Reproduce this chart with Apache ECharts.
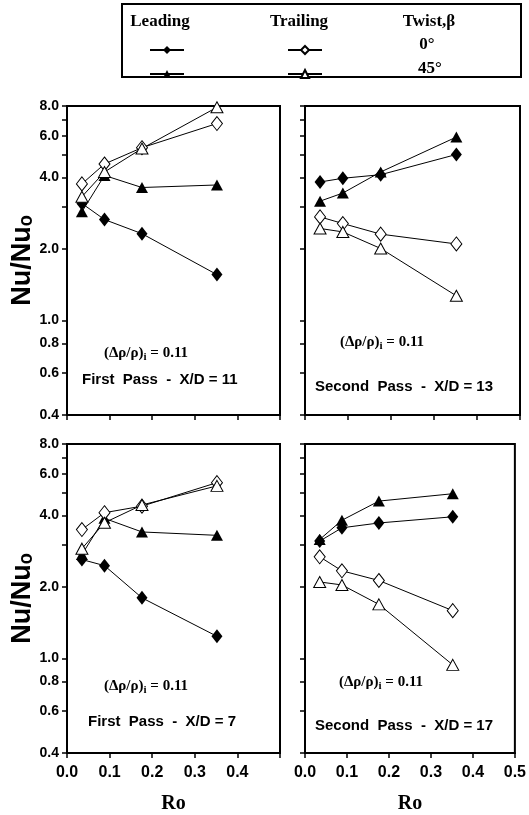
<!DOCTYPE html>
<html>
<head>
<meta charset="utf-8">
<script src="https://cdn.jsdelivr.net/npm/echarts@6.0.0/dist/echarts.min.js"></script>
<style>
  html, body { margin: 0; padding: 0; background: #fff; }
  #chart { width: 529px; height: 815px; }
</style>
</head>
<body>
<div id="chart"></div>
<script>
// rotation number (same for all panels)
const ro = [0.035, 0.088, 0.176, 0.352]

// First Pass - X/D = 11
const fp11Lead0 = [3.11, 2.66, 2.32, 1.56]
const fp11Lead45 = [2.87, 4.08, 3.63, 3.72]
const fp11Trail0 = [3.76, 4.56, 5.34, 6.75]
const fp11Trail45 = [3.32, 4.22, 5.3, 7.9]

// Second Pass - X/D = 13
const sp13Lead0 = [3.83, 3.97, 4.11, 5.0]
const sp13Lead45 = [3.18, 3.44, 4.22, 5.92]
const sp13Trail0 = [2.73, 2.56, 2.31, 2.1]
const sp13Trail45 = [2.44, 2.36, 2.01, 1.27]

// First Pass - X/D = 7
const fp7Lead0 = [2.61, 2.46, 1.8, 1.24]
const fp7Lead45 = [2.74, 3.89, 3.41, 3.3]
const fp7Trail0 = [3.49, 4.11, 4.38, 5.5]
const fp7Trail45 = [2.9, 3.73, 4.43, 5.33]

// Second Pass - X/D = 17
const sp17Lead0 = [3.12, 3.55, 3.72, 3.95]
const sp17Lead45 = [3.17, 3.82, 4.6, 4.94]
const sp17Trail0 = [2.68, 2.34, 2.13, 1.59]
const sp17Trail45 = [2.1, 2.04, 1.69, 0.94]

// ticks
const yTicks = [0.4, 0.6, 0.8, 1, 2, 3, 4, 5, 6, 7, 8]
const yLabels = [0.4, 0.6, 0.8, 1, 2, 4, 6, 8]
const panelNames = ['First  Pass  -  X/D = 11', 'Second  Pass  -  X/D = 13', 'First  Pass  -  X/D = 7', 'Second  Pass  -  X/D = 17']
const seriesNames = ['Leading 0°', 'Leading 45°', 'Trailing 0°', 'Trailing 45°']
const panelData = [
  [fp11Lead0, fp11Lead45, fp11Trail0, fp11Trail45],
  [sp13Lead0, sp13Lead45, sp13Trail0, sp13Trail45],
  [fp7Lead0, fp7Lead45, fp7Trail0, fp7Trail45],
  [sp17Lead0, sp17Lead45, sp17Trail0, sp17Trail45]
]

const sans = '"Liberation Sans", Arial, sans-serif'
const serif = '"Liberation Serif", "DejaVu Serif", serif'

// marker look for each series kind
const markers = [
  { symbol: 'diamond', symbolSize: [11, 14], itemStyle: { color: '#000' } },
  { symbol: 'triangle', symbolSize: [12, 11], itemStyle: { color: '#000' } },
  { symbol: 'diamond', symbolSize: [11, 14], itemStyle: { color: '#fff', borderColor: '#000', borderWidth: 1 } },
  { symbol: 'triangle', symbolSize: [12, 11], itemStyle: { color: '#fff', borderColor: '#000', borderWidth: 1 } }
]

const grids = [
  { left: 67, top: 106, width: 213, height: 309 },
  { left: 305, top: 106, width: 215, height: 309 },
  { left: 67, top: 444, width: 213, height: 309 },
  { left: 305, top: 444, width: 215, height: 309 }
]

const xAxes = grids.map((g, i) => ({
  gridIndex: i,
  type: 'value',
  min: 0,
  max: 0.5,
  interval: 0.1,
  name: i >= 2 ? 'Ro' : '',
  nameLocation: 'middle',
  nameGap: 41,
  nameTextStyle: { fontFamily: serif, fontWeight: 'bold', fontSize: 20, color: '#000' },
  splitLine: { show: false },
  axisLine: { lineStyle: { color: '#000', width: 2 } },
  axisTick: { show: true, inside: false, length: 5, lineStyle: { color: '#000', width: 1.5 } },
  axisLabel: {
    show: i >= 2,
    margin: 12,
    fontFamily: sans,
    fontWeight: 'bold',
    fontSize: 16,
    color: '#000',
    formatter: (v) => (i === 2 && v > 0.45 ? '' : v.toFixed(1))
  }
}))

const yAxes = grids.map((g, i) => ({
  gridIndex: i,
  type: 'log',
  logBase: 10,
  min: 0.4,
  max: 8,
  name: i % 2 === 0 ? 'Nu/Nuₒ' : '',
  nameLocation: 'middle',
  nameGap: 31,
  nameRotate: 90,
  nameTextStyle: { fontFamily: sans, fontWeight: 'bold', fontSize: 27, color: '#000' },
  splitLine: { show: false },
  axisLine: { show: true, lineStyle: { color: '#000', width: 2 } },
  axisTick: { show: true, inside: false, length: 5, customValues: yTicks, lineStyle: { color: '#000', width: 1.5 } },
  axisLabel: {
    show: i % 2 === 0,
    customValues: yLabels,
    margin: 8,
    fontFamily: sans,
    fontWeight: 'bold',
    fontSize: 14,
    color: '#000',
    formatter: (v) => Number(v).toFixed(1)
  }
}))

const series = []
panelData.forEach((sets, p) => {
  sets.forEach((vals, k) => {
    series.push(Object.assign({
      name: seriesNames[k],
      type: 'line',
      xAxisIndex: p,
      yAxisIndex: p,
      showAllSymbol: true,
      lineStyle: { color: '#000', width: 1 },
      data: vals.map((v, j) => [ro[j], v])
    }, markers[k]))
  })
})

// legend icons, one legend per cell of the little table
const legendCells = [
  { name: 'Leading 0°', x: 161, y: 45 },
  { name: 'Trailing 0°', x: 299, y: 45 },
  { name: 'Leading 45°', x: 161, y: 69 },
  { name: 'Trailing 45°', x: 299, y: 69 }
]
const legends = legendCells.map((c) => ({
  data: [c.name],
  left: c.x - 17,
  top: c.y - 5,
  itemWidth: 34,
  itemHeight: 10,
  selectedMode: false,
  formatter: () => '',
  textStyle: { fontSize: 1 }
}))

// texts inside panels
const noteRich = {
  a: { fontFamily: serif, fontWeight: 'bold', fontSize: 15, fill: '#000' },
  s: { fontFamily: serif, fontWeight: 'bold', fontSize: 11, fill: '#000', padding: [8, 0, 0, 0] }
}
const notes = [
  { x: 146, y: 353 }, { x: 382, y: 342 }, { x: 146, y: 686 }, { x: 381, y: 682 }
]
const labels = [
  { x: 82, y: 380 }, { x: 315, y: 387 }, { x: 88, y: 722 }, { x: 315, y: 726 }
]

const graphic = [
  { type: 'rect', shape: { x: 122, y: 4, width: 399, height: 73 }, style: { fill: 'none', stroke: '#000', lineWidth: 2 } },
  { type: 'text', x: 160, y: 22, style: { text: 'Leading', font: 'bold 17px ' + serif, fill: '#000', align: 'center', verticalAlign: 'middle' } },
  { type: 'text', x: 299, y: 22, style: { text: 'Trailing', font: 'bold 17px ' + serif, fill: '#000', align: 'center', verticalAlign: 'middle' } },
  { type: 'text', x: 429, y: 22, style: { text: 'Twist,β', font: 'bold 17px ' + serif, fill: '#000', align: 'center', verticalAlign: 'middle' } },
  { type: 'text', x: 427, y: 45, style: { text: '0°', font: 'bold 17px ' + serif, fill: '#000', align: 'center', verticalAlign: 'middle' } },
  { type: 'text', x: 430, y: 69, style: { text: '45°', font: 'bold 17px ' + serif, fill: '#000', align: 'center', verticalAlign: 'middle' } }
]
notes.forEach((n) => {
  graphic.push({
    type: 'text', x: n.x, y: n.y,
    style: { text: '{a|(Δρ/ρ)}{s|i}{a| = 0.11}', rich: noteRich, align: 'center', verticalAlign: 'middle' }
  })
})
labels.forEach((l, i) => {
  graphic.push({
    type: 'text', x: l.x, y: l.y,
    style: { text: panelNames[i], font: 'bold 15px ' + sans, fill: '#000', align: 'left', verticalAlign: 'middle' }
  })
})

const chart = echarts.init(document.getElementById('chart'))
chart.setOption({
  animation: false,
  backgroundColor: '#fff',
  grid: grids.map((g) => Object.assign({ show: true, borderColor: '#000', borderWidth: 2, backgroundColor: 'transparent' }, g)),
  xAxis: xAxes,
  yAxis: yAxes,
  legend: legends,
  series: series,
  graphic: graphic
})
</script>
</body>
</html>
